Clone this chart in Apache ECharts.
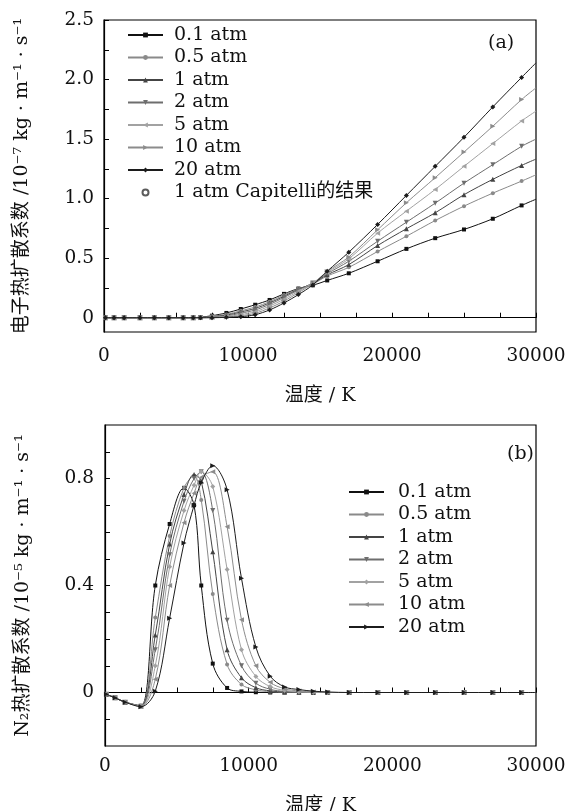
<!DOCTYPE html>
<html><head><meta charset="utf-8">
<script src="https://cdn.jsdelivr.net/npm/echarts@6/dist/echarts.min.js"></script>
<style>html,body{margin:0;padding:0;background:#fff}#c{width:568px;height:811px}</style>
</head><body><div id="c"></div>
<script>
// ---- data ----
const temps = [100, 700, 1400, 2500, 3500, 4500, 5500, 6200, 6700, 7500, 8500, 9500, 10500, 11500, 12500, 13500, 14500, 15500, 17000, 19000, 21000, 23000, 25000, 27000, 29000, 30000];
const pressures = ['0.1 atm', '0.5 atm', '1 atm', '2 atm', '5 atm', '10 atm', '20 atm'];
const capitelliName = '1 atm Capitelli的结果';
const capitelliData = [];

// (a) electron thermal diffusion coefficient, 1e-7 kg m^-1 s^-1
const eP01 = [0,0,0,0,0,0,0,0.001,0.004,0.017,0.040,0.073,0.109,0.149,0.200,0.245,0.272,0.313,0.373,0.474,0.578,0.668,0.741,0.831,0.943,0.995];
const eP05 = [0,0,0,0,0,0,0,0.001,0.003,0.012,0.028,0.058,0.090,0.135,0.190,0.243,0.283,0.350,0.423,0.556,0.684,0.816,0.937,1.046,1.147,1.200];
const eP1  = [0,0,0,0,0,0,0,0,0.002,0.008,0.022,0.048,0.078,0.124,0.180,0.238,0.288,0.360,0.446,0.606,0.747,0.881,1.033,1.162,1.279,1.332];
const eP2  = [0,0,0,0,0,0,0,0,0.001,0.005,0.015,0.038,0.065,0.112,0.170,0.232,0.292,0.370,0.474,0.642,0.802,0.962,1.130,1.285,1.439,1.500];
const eP5  = [0,0,0,0,0,0,0,0,0,0.003,0.010,0.027,0.050,0.098,0.155,0.222,0.292,0.380,0.494,0.710,0.895,1.077,1.271,1.462,1.652,1.735];
const eP10 = [0,0,0,0,0,0,0,0,0,0.002,0.006,0.017,0.037,0.082,0.140,0.210,0.287,0.388,0.510,0.738,0.965,1.176,1.391,1.608,1.832,1.930];
const eP20 = [0,0,0,0,0,0,0,0,0,0,0.003,0.008,0.025,0.065,0.124,0.194,0.275,0.390,0.550,0.783,1.027,1.271,1.515,1.770,2.018,2.140];

// (b) N2 thermal diffusion coefficient, 1e-5 kg m^-1 s^-1
const nP01 = [-0.007,-0.020,-0.036,-0.050,0.400,0.630,0.765,0.700,0.400,0.108,0.017,0.004,0.001,0,0,0,0,0,0,0,0,0,0,0,0,0];
const nP05 = [-0.007,-0.020,-0.036,-0.050,0.280,0.585,0.765,0.810,0.720,0.368,0.105,0.030,0.010,0.003,0.001,0,0,0,0,0,0,0,0,0,0,0];
const nP1  = [-0.007,-0.020,-0.036,-0.050,0.215,0.555,0.740,0.815,0.790,0.526,0.160,0.055,0.018,0.006,0.002,0.001,0,0,0,0,0,0,0,0,0,0];
const nP2  = [-0.007,-0.020,-0.036,-0.051,0.160,0.515,0.715,0.800,0.825,0.680,0.270,0.100,0.035,0.012,0.004,0.001,0,0,0,0,0,0,0,0,0,0];
const nP5  = [-0.007,-0.020,-0.036,-0.051,0.100,0.470,0.680,0.775,0.825,0.770,0.460,0.160,0.060,0.022,0.008,0.003,0.001,0,0,0,0,0,0,0,0,0];
const nP10 = [-0.007,-0.020,-0.036,-0.052,0.050,0.400,0.635,0.745,0.805,0.825,0.620,0.272,0.100,0.038,0.014,0.006,0.002,0,0,0,0,0,0,0,0,0];
const nP20 = [-0.007,-0.020,-0.036,-0.053,0.005,0.278,0.559,0.700,0.785,0.848,0.758,0.427,0.170,0.061,0.021,0.011,0.005,0.002,0,0,0,0,0,0,0,0];

// ticks
const xTicks = [0,2500,5000,7500,10000,12500,15000,17500,20000,22500,25000,27500,30000];
const xLabels = [0,10000,20000,30000];
const yTicksA = [0,0.25,0.5,0.75,1.0,1.25,1.5,1.75,2.0,2.25,2.5];
const yLabelsA = [0,0.5,1.0,1.5,2.0,2.5];
const yTicksB = [-0.1,0,0.1,0.2,0.3,0.4,0.5,0.6,0.7,0.8,0.9];
const yLabelsB = [0,0.4,0.8];

// ---- styles ----
const FONT = "'DejaVu Serif', 'Noto Sans CJK SC', serif";
const colors = ['#111111', '#8a8a8a', '#444444', '#6e6e6e', '#a2a2a2', '#8c8c8c', '#1c1c1c'];
const symA = [['rect',4,0],['circle',4,0],['triangle',5,0],['triangle',5,180],['triangle',5,90],['triangle',5,-90],['diamond',5,0]];
const symB = [['rect',4,0],['circle',4,0],['triangle',5,0],['triangle',5,180],['diamond',5,0],['triangle',5,90],['triangle',5,-90]];
const setA = [eP01,eP05,eP1,eP2,eP5,eP10,eP20];
const setB = [nP01,nP05,nP1,nP2,nP5,nP10,nP20];

function mk(vals) {
  return vals.map((v, i) => i === vals.length - 1 ? {value: [temps[i], v], symbol: 'none'} : [temps[i], v]);
}
const series = [];
setA.forEach((vals, k) => series.push({
  name: pressures[k], type: 'line', xAxisIndex: 0, yAxisIndex: 0, data: mk(vals),
  smooth: 0.3, symbol: symA[k][0], symbolSize: symA[k][1], symbolRotate: symA[k][2],
  showAllSymbol: true, itemStyle: {color: colors[k]}, lineStyle: {width: 1, color: colors[k]},
  emphasis: {disabled: true}, z: 2 + k
}));
series.push({name: capitelliName, type: 'scatter', xAxisIndex: 0, yAxisIndex: 0, data: capitelliData,
  symbol: 'emptyCircle', symbolSize: 6, itemStyle: {color: '#333', borderWidth: 1}});
setB.forEach((vals, k) => series.push({
  name: pressures[k] + ' ', type: 'line', xAxisIndex: 1, yAxisIndex: 1, data: mk(vals),
  smooth: 0.35, symbol: symB[k][0], symbolSize: symB[k][1], symbolRotate: symB[k][2],
  showAllSymbol: true, itemStyle: {color: colors[k]}, lineStyle: {width: 1, color: colors[k]},
  emphasis: {disabled: true}, z: 2 + k
}));

const tick = {show: true, inside: true, length: 5, lineStyle: {color: '#000', width: 1}};
function xAxis(gi, margin) {
  return {type: 'value', gridIndex: gi, min: 0, max: 30000,
    axisLine: {show: true, lineStyle: {color: '#000', width: 1.2}},
    axisTick: Object.assign({customValues: xTicks}, tick),
    axisLabel: {customValues: xLabels, margin: margin, color: '#111', fontFamily: FONT, fontSize: 18.5, formatter: v => String(v)},
    splitLine: {show: false},
    name: '温度 / K', nameLocation: 'middle', nameGap: margin + 40,
    nameTextStyle: {fontFamily: FONT, fontSize: 19, color: '#111'}};
}

const option = {
  animation: false,
  backgroundColor: '#fff',
  grid: [
    {left: 104, top: 20, width: 432, height: 312, show: true, borderColor: '#000', borderWidth: 1.2, containLabel: false, outerBoundsMode: 'none'},
    {left: 105, top: 425, width: 431, height: 321, show: true, borderColor: '#000', borderWidth: 1.2, containLabel: false, outerBoundsMode: 'none'}
  ],
  xAxis: [xAxis(0, 15), xAxis(1, 11)],
  yAxis: [
    {type: 'value', gridIndex: 0, min: -0.12, max: 2.5,
      axisLine: {show: true, lineStyle: {color: '#000', width: 1.2}},
      axisTick: Object.assign({customValues: yTicksA}, tick),
      axisLabel: {customValues: yLabelsA, margin: 10, color: '#111', fontFamily: FONT, fontSize: 18.5,
        formatter: v => v === 0 ? '0' : v.toFixed(1)},
      splitLine: {show: false},
      name: '电子热扩散系数 /10⁻⁷ kg · m⁻¹ · s⁻¹', nameLocation: 'middle', nameGap: 72,
      nameTextStyle: {fontFamily: FONT, fontSize: 19, color: '#111'}},
    {type: 'value', gridIndex: 1, min: -0.2, max: 1.0,
      axisLine: {show: true, lineStyle: {color: '#000', width: 1.2}},
      axisTick: Object.assign({customValues: yTicksB}, tick),
      axisLabel: {customValues: yLabelsB, margin: 11, color: '#111', fontFamily: FONT, fontSize: 18.5,
        formatter: v => v === 0 ? '0' : v.toFixed(1)},
      splitLine: {show: false},
      name: 'N₂热扩散系数 /10⁻⁵ kg · m⁻¹ · s⁻¹', nameLocation: 'middle', nameGap: 72,
      nameTextStyle: {fontFamily: FONT, fontSize: 19, color: '#111'}}
  ],
  legend: [
    {data: pressures.concat([capitelliName]), orient: 'vertical', left: 127, top: 25, padding: 0,
      itemWidth: 35, itemHeight: 6, itemGap: 2.5, selectedMode: false,
      textStyle: {fontFamily: FONT, fontSize: 19, color: '#111', lineHeight: 20, padding: [0,0,0,6]}},
    {data: pressures.map(p => p + ' '), orient: 'vertical', left: 348, top: 482, padding: 0,
      itemWidth: 35, itemHeight: 6, itemGap: 2.5, selectedMode: false,
      textStyle: {fontFamily: FONT, fontSize: 19, color: '#111', lineHeight: 20, padding: [0,0,0,9]}}
  ],
  graphic: [
    {type: 'text', left: 488, top: 34, style: {text: '(a)', font: "19px 'DejaVu Serif'", fill: '#111'}},
    {type: 'text', left: 507, top: 445, style: {text: '(b)', font: "19px 'DejaVu Serif'", fill: '#111'}}
  ],
  series: series
};
const chart = echarts.init(document.getElementById('c'), null, {renderer: 'canvas'});
chart.setOption(option);
</script>
</body></html>
